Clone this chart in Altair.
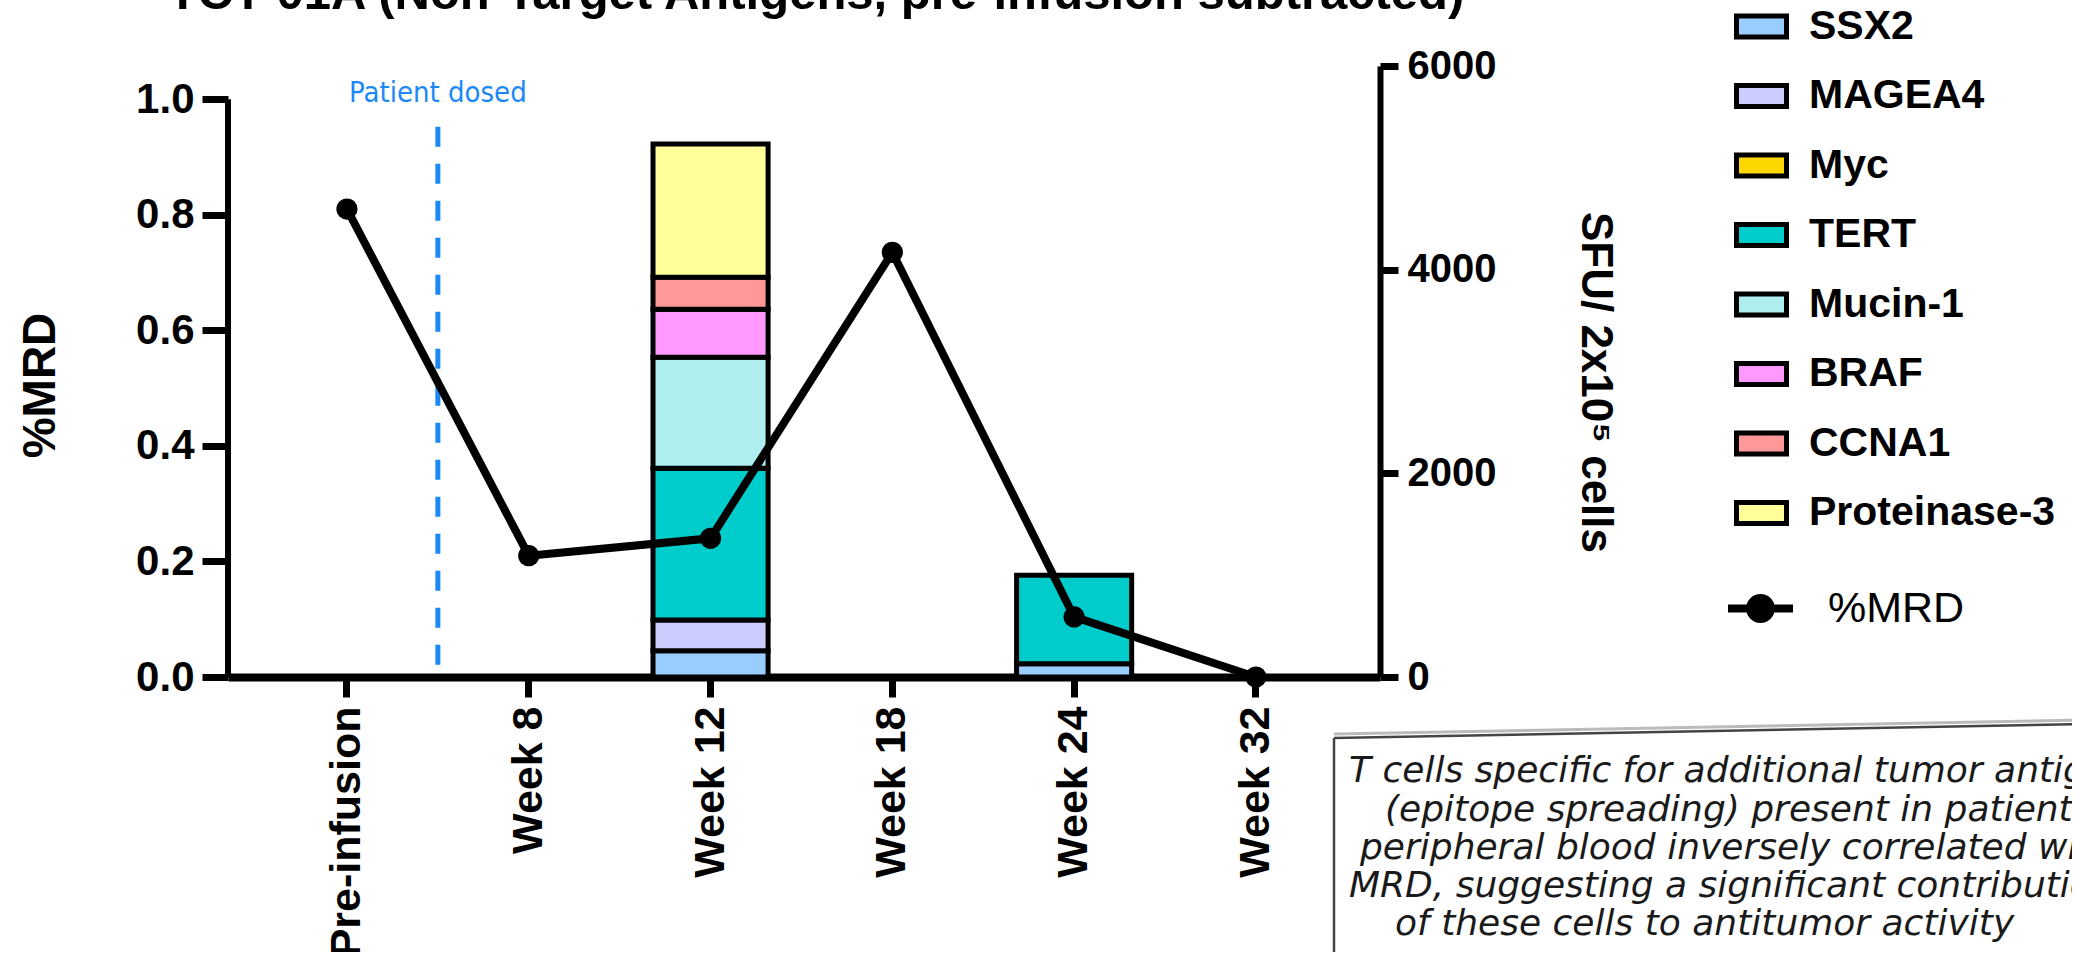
import altair as alt
import pandas as pd

# ---------------- data ----------------
timepoints = ["Pre-infusion", "Week 8", "Week 12", "Week 18", "Week 24", "Week 32"]
mrd_values = [0.81, 0.21, 0.24, 0.735, 0.104, 0.0]

antigens = ["SSX2", "MAGEA4", "Myc", "TERT", "Mucin-1", "BRAF", "CCNA1", "Proteinase-3"]
antigen_colors = ["#99CCFF", "#CCCCFF", "#FFD700", "#00CCCC", "#AFEEEE",
                  "#FF99FF", "#FF9999", "#FFFF99"]

# SFU / 2x10^5 cells per antigen, in timepoint order
ssx2 = [0, 0, 258, 0, 130, 0]
magea4 = [0, 0, 302, 0, 0, 0]
myc = [0, 0, 0, 0, 0, 0]
tert = [0, 0, 1490, 0, 870, 0]
mucin1 = [0, 0, 1090, 0, 0, 0]
braf = [0, 0, 472, 0, 0, 0]
ccna1 = [0, 0, 314, 0, 0, 0]
proteinase3 = [0, 0, 1309, 0, 0, 0]

sfu_ticks = [0, 2000, 4000, 6000]
mrd_ticks = [0.0, 0.2, 0.4, 0.6, 0.8, 1.0]

title_text = "TCT-01A (Non-Target Antigens, pre-infusion subtracted)"
dosed_label = "Patient dosed"
note_lines = [
    "T cells specific for additional tumor antigens",
    "(epitope spreading) present in patient",
    "peripheral blood inversely correlated with",
    "MRD, suggesting a significant contribution",
    "of these cells to antitumor activity",
]

# ---------------- layout ----------------
FONT = "Liberation Sans, Arial, sans-serif"
BLUE = "#1A88F8"
PAD_L, PAD_T = 228, 66
W, H = 1152, 611
TOTAL_W, TOTAL_H = 2072, 952
PAD_R = TOTAL_W - PAD_L - W
PAD_B = TOTAL_H - PAD_T - H

P_IN, P_OUT, ALIGN = 0.367, 0.352, 0.48
n = len(timepoints)
step = W / (n - P_IN + 2 * P_OUT)
bw = step * (1 - P_IN)
first_center = (W - step * (n - P_IN)) * ALIGN + bw / 2
x_dosed = first_center + step / 2

note_x = [1349, 1385, 1360, 1349, 1395]
note_y = [771, 810, 848, 886, 924]

# ---------------- tables ----------------
series = [ssx2, magea4, myc, tert, mucin1, braf, ccna1, proteinase3]
rows = []
for k, (ag, vals) in enumerate(zip(antigens, series)):
    for tp, v in zip(timepoints, vals):
        if v > 0:
            rows.append({"timepoint": tp, "antigen": ag, "sfu": v, "stack_order": k})
bar_df = pd.DataFrame(rows)
mrd_df = pd.DataFrame({"timepoint": timepoints, "mrd": mrd_values,
                       "series": ["%MRD"] * len(timepoints)})
one = alt.Data(values=[{"a": 1}])

x_enc = alt.X(
    "timepoint:N", sort=timepoints,
    scale=alt.Scale(domain=timepoints, paddingInner=P_IN, paddingOuter=P_OUT, align=ALIGN),
    axis=alt.Axis(title=None, labelAngle=270, labelAlign="right", labelBaseline="middle",
                  labelFont=FONT, labelFontSize=43, labelFontWeight="bold", labelColor="black",
                  labelPadding=9, labelOverlap=False, labelLimit=1000, tickSize=20,
                  tickWidth=7, tickColor="black", domainWidth=8, domainColor="black",
                  grid=False),
)

# ---------------- bars (right axis) ----------------
bars = alt.Chart(bar_df).mark_bar(stroke="black", strokeWidth=5).encode(
    x=x_enc,
    y=alt.Y("sfu:Q", stack="zero",
            scale=alt.Scale(domain=[0, 6000], nice=False),
            axis=alt.Axis(orient="right", values=sfu_ticks, format="d", grid=False,
                          domainWidth=6, domainColor="black", tickSize=18, tickWidth=7,
                          tickColor="black", labelFont=FONT, labelFontSize=40,
                          labelFontWeight="bold", labelColor="black", labelPadding=9,
                          labelOverlap=False,
                          title="SFU/ 2x10\u2075 cells",
                          titleFont="Liberation Sans Narrow, Liberation Sans, Arial",
                          titleFontSize=44, titleFontWeight="bold", titleColor="black",
                          titleAngle=90, titleX=214, titleY=316, titleAlign="center",
                          titleBaseline="middle")),
    fill=alt.Fill("antigen:N", scale=alt.Scale(domain=antigens, range=antigen_colors),
                  legend=alt.Legend(title=None, orient="none", legendX=1506, legendY=-67,
                                    symbolType="M-1,-0.42H1V0.42H-1Z", symbolSize=2500,
                                    symbolStrokeColor="black", symbolStrokeWidth=5,
                                    symbolOpacity=1, labelFont=FONT, labelFontSize=41,
                                    labelFontWeight="bold", labelColor="black",
                                    labelOffset=20, rowPadding=21.5, padding=0,
                                    labelLimit=400)),
    order=alt.Order("stack_order:Q", sort="ascending"),
)

# ---------------- %MRD (left axis) ----------------
y_mrd = alt.Y("mrd:Q", scale=alt.Scale(domain=[0, 1.0576], nice=False, zero=True),
              axis=alt.Axis(orient="left", values=mrd_ticks, format=".1f", domain=False,
                            grid=False, tickSize=26, tickWidth=7, tickColor="black",
                            labelFont=FONT, labelFontSize=42, labelFontWeight="bold",
                            labelColor="black", labelPadding=8, labelOverlap=False,
                            title="%MRD", titleFont=FONT, titleFontSize=46,
                            titleFontWeight="bold", titleColor="black", titleAngle=270,
                            titleX=-188, titleY=319, titleAlign="center",
                            titleBaseline="middle"))

left_axis_line = alt.Chart(one).mark_rule(color="black", strokeWidth=6).encode(
    x=alt.value(0),
    y=alt.YDatum(mrd_ticks[-1]),
    y2=alt.Y2Datum(mrd_ticks[0]),
)

dosed_rule = alt.Chart(one).mark_rule(color=BLUE, strokeWidth=5, strokeDash=[20, 17]).encode(
    x=alt.value(x_dosed), y=alt.value(126.7 - PAD_T), y2=alt.value(H))
dosed_text = alt.Chart(one).mark_text(
    text=dosed_label, font="DejaVu Sans Condensed, Noto Sans, DejaVu Sans", fontSize=29,
    color=BLUE, align="center", baseline="alphabetic").encode(
    x=alt.value(x_dosed), y=alt.value(101.7 - PAD_T))

line = alt.Chart(mrd_df).mark_line(color="black", strokeWidth=8).encode(x=x_enc, y=y_mrd)

mrd_path = ("M-1,0H1M-0.32,0A0.32,0.32,0,1,0,0.32,0A0.32,0.32,0,1,0,-0.32,0Z")
points = alt.Chart(mrd_df).mark_point(filled=True, shape="circle", size=450, opacity=1).encode(
    x=x_enc, y=y_mrd,
    color=alt.Color("series:N", scale=alt.Scale(domain=["%MRD"], range=["black"]),
                    legend=alt.Legend(title=None, orient="none", legendX=1496, legendY=506,
                                      symbolType=mrd_path, symbolSize=4225,
                                      symbolStrokeColor="black", symbolStrokeWidth=8,
                                      symbolOpacity=1, labelFont=FONT, labelFontSize=43,
                                      labelFontWeight="normal", labelColor="black",
                                      labelOffset=31, padding=0)),
)

title_mark = alt.Chart(one).mark_text(
    text=title_text, font=FONT, fontSize=49, fontWeight="bold", color="black",
    align="center", baseline="alphabetic").encode(
    x=alt.value(816 - PAD_L), y=alt.value(9 - PAD_T))

box_shadow = alt.Chart(one).mark_rule(color="#BBBBBB", strokeWidth=3).encode(
    x=alt.value(1334 - PAD_L), y=alt.value(734 - PAD_T),
    x2=alt.value(2090 - PAD_L), y2=alt.value(720 - PAD_T))
box_top = alt.Chart(one).mark_rule(color="#444444", strokeWidth=2.5).encode(
    x=alt.value(1334 - PAD_L), y=alt.value(738 - PAD_T),
    x2=alt.value(2090 - PAD_L), y2=alt.value(724 - PAD_T))
box_left = alt.Chart(one).mark_rule(color="#444444", strokeWidth=2.5).encode(
    x=alt.value(1334 - PAD_L), y=alt.value(738 - PAD_T),
    x2=alt.value(1334 - PAD_L), y2=alt.value(TOTAL_H + 10 - PAD_T))

notes = []
for txt, nx, ny in zip(note_lines, note_x, note_y):
    notes.append(alt.Chart(one).mark_text(
        text=txt, font="DejaVu Sans, sans-serif", fontSize=36, fontStyle="italic",
        color="#1A1A1A", align="left", baseline="middle").encode(
        x=alt.value(nx - PAD_L), y=alt.value(ny - PAD_T)))

mrd_layer = alt.layer(dosed_rule, dosed_text, line, points, left_axis_line,
                      title_mark, box_shadow, box_top, box_left, *notes)

chart = alt.layer(bars, mrd_layer).resolve_scale(y="independent").properties(
    width=W, height=H,
    autosize=alt.AutoSizeParams(type="none"),
    padding={"left": PAD_L, "top": PAD_T, "right": PAD_R, "bottom": PAD_B},
    background="white",
).configure_view(strokeWidth=0)

chart.save("out.html", embed_options={"renderer": "svg", "actions": False})
